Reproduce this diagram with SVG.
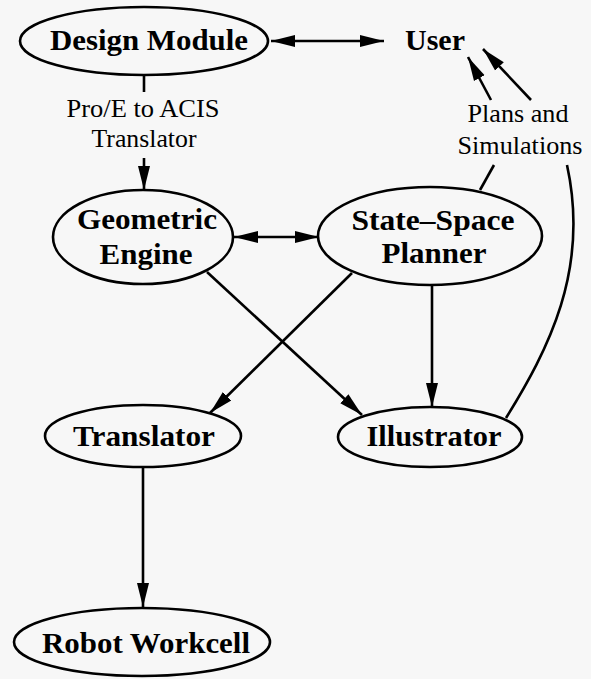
<svg xmlns="http://www.w3.org/2000/svg" width="591" height="679" viewBox="0 0 591 679">
<defs>
<style>
.node ellipse{fill:none;stroke:#000;stroke-width:2.6}
.nt{font-family:"Liberation Serif","Times New Roman",serif;font-weight:bold;font-size:29px;fill:#000;text-anchor:middle}
.lb{font-family:"Liberation Serif","Times New Roman",serif;font-size:26px;fill:#000;text-anchor:middle}
.edges path,.edges line{fill:none;stroke:#000;stroke-width:2.6}
</style>
<marker id="ah" markerUnits="userSpaceOnUse" markerWidth="26" markerHeight="14" refX="24" refY="6" orient="auto-start-reverse" viewBox="0 0 26 12">
<path d="M0,0 L24,6 L0,12 Z" fill="#000"/>
</marker>
</defs>
<rect width="591" height="679" fill="#f7f7f7"/>
<g class="edges">
<line x1="271" y1="41" x2="384" y2="41" marker-start="url(#ah)" marker-end="url(#ah)"/>
<line x1="144" y1="75" x2="144" y2="92"/>
<line x1="144" y1="158" x2="144" y2="190" marker-end="url(#ah)"/>
<line x1="234" y1="237" x2="319" y2="237" marker-start="url(#ah)" marker-end="url(#ah)"/>
<line x1="207" y1="272" x2="362" y2="415" marker-end="url(#ah)"/>
<line x1="352" y1="273" x2="210" y2="413" marker-end="url(#ah)"/>
<line x1="432" y1="285" x2="432" y2="407" marker-end="url(#ah)"/>
<line x1="143" y1="467" x2="143" y2="607" marker-end="url(#ah)"/>
<line x1="480" y1="190" x2="494" y2="165"/>
<path d="M506,418 C548,350 590,270 567,165"/>
<line x1="491" y1="100" x2="468" y2="57" marker-end="url(#ah)"/>
<line x1="531" y1="100" x2="483" y2="49" marker-end="url(#ah)"/>
</g>
<g id="design-module" class="node">
<ellipse cx="144" cy="41" rx="124" ry="34"/>
<text class="nt" x="149" y="50" textLength="198" lengthAdjust="spacingAndGlyphs">Design Module</text>
</g>
<g id="user" class="node">
<text class="nt" x="435" y="50" textLength="60" lengthAdjust="spacingAndGlyphs">User</text>
</g>
<g id="label-translator">
<text class="lb" x="143" y="117" textLength="153" lengthAdjust="spacingAndGlyphs">Pro/E to ACIS</text>
<text class="lb" x="144" y="147" textLength="105" lengthAdjust="spacingAndGlyphs">Translator</text>
</g>
<g id="label-plans">
<text class="lb" x="518" y="122" textLength="101" lengthAdjust="spacingAndGlyphs">Plans and</text>
<text class="lb" x="520" y="154" textLength="125" lengthAdjust="spacingAndGlyphs">Simulations</text>
</g>
<g id="geometric-engine" class="node">
<ellipse cx="143" cy="237" rx="90" ry="47"/>
<text class="nt" x="147" y="229" textLength="140" lengthAdjust="spacingAndGlyphs">Geometric</text>
<text class="nt" x="146" y="264" textLength="93" lengthAdjust="spacingAndGlyphs">Engine</text>
</g>
<g id="state-space-planner" class="node">
<ellipse cx="430" cy="236" rx="112" ry="49"/>
<text class="nt" x="433" y="230" textLength="163" lengthAdjust="spacingAndGlyphs">State–Space</text>
<text class="nt" x="434" y="263" textLength="105" lengthAdjust="spacingAndGlyphs">Planner</text>
</g>
<g id="translator" class="node">
<ellipse cx="143" cy="436" rx="98" ry="31"/>
<text class="nt" x="144" y="446" textLength="142" lengthAdjust="spacingAndGlyphs">Translator</text>
</g>
<g id="illustrator" class="node">
<ellipse cx="430" cy="437" rx="92" ry="30"/>
<text class="nt" x="434" y="446" textLength="135" lengthAdjust="spacingAndGlyphs">Illustrator</text>
</g>
<g id="robot-workcell" class="node">
<ellipse cx="142" cy="642" rx="128" ry="34"/>
<text class="nt" x="146" y="653" textLength="208" lengthAdjust="spacingAndGlyphs">Robot Workcell</text>
</g>
</svg>
